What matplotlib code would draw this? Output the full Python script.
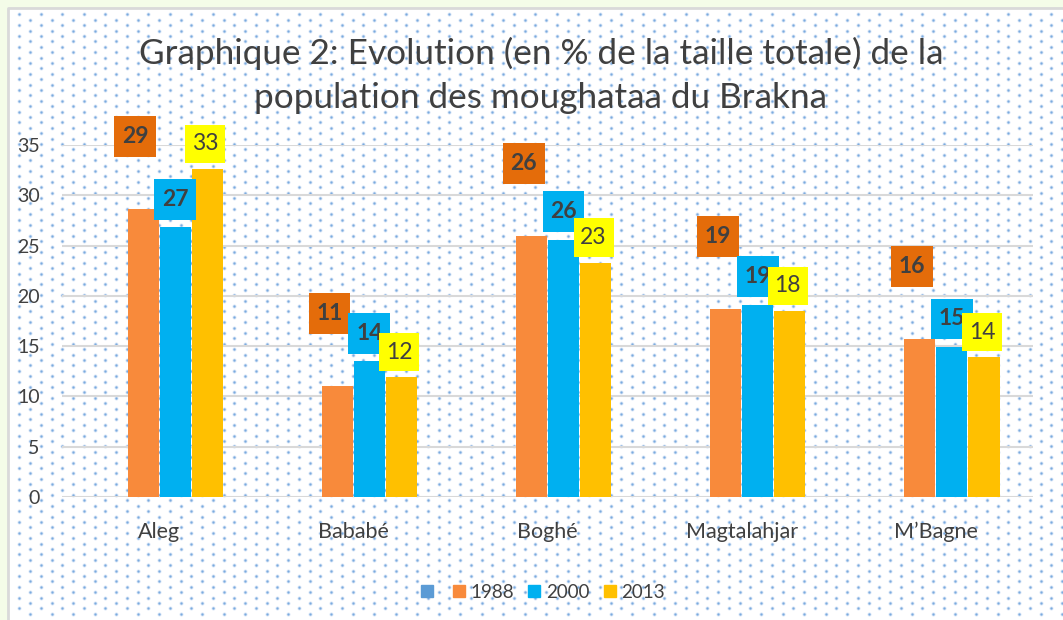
import numpy as np
import matplotlib.pyplot as plt
from matplotlib.patches import Rectangle, Patch

plt.rcParams['font.family'] = ['Lato', 'DejaVu Sans']

# data
categories = ['Aleg', 'Bababé', 'Boghé', 'Magtalahjar', 'M’Bagne']
years = ['1988', '2000', '2013']
pop_1988 = [28.6, 11.0, 26.0, 18.7, 15.7]
pop_2000 = [26.8, 13.5, 25.6, 19.1, 14.9]
pop_2013 = [32.6, 11.9, 23.3, 18.5, 13.9]
labels_1988 = ['29', '11', '26', '19', '16']
labels_2000 = ['27', '14', '26', '19', '15']
labels_2013 = ['33', '12', '23', '18', '14']
y_ticks = [0, 5, 10, 15, 20, 25, 30, 35]

W, H = 1063, 620
fig = plt.figure(figsize=(W / 100, H / 100), dpi=100)
fig.patch.set_facecolor('#F4FCE8')

# background: white chart area with dotted pattern
bg = fig.add_axes([0, 0, 1, 1], zorder=0)
bg.set_xlim(0, W)
bg.set_ylim(H, 0)
bg.axis('off')
bg.add_patch(Rectangle((8, 8), W, H, facecolor='white', edgecolor='none'))
bg.plot([7.5, 7.5, W], [H, 8, 8], color='#D9D9D9', lw=2)
dx, dy = 21.5, 5.4
pts_x, pts_y = [], []
for r in range(int((H - 10) / dy) + 1):
    yy = 14.3 + (r - 1) * dy
    if yy < 10:
        continue
    x0 = 8.5 if r % 2 == 0 else 19.25
    for xx in np.arange(x0 + (dx if x0 < 10 else 0), W + 2, dx):
        pts_x.append(xx)
        pts_y.append(yy)
bg.scatter(pts_x, pts_y, s=8, color='#D3E3F5', lw=0)
bg.scatter(pts_x, pts_y, s=2.5, color='#7AAADF', lw=0)

ax = fig.add_axes([62 / W, 1 - 497 / H, (1033 - 62) / W, (497 - 145) / H], zorder=1)
ax.patch.set_alpha(0)

series = [
    (pop_1988, labels_1988, '#F88A3B', '#E46C0A', 'bold', 7.2, -0.04),
    (pop_2000, labels_2000, '#00B0F0', '#00B0F0', 'bold', 2.8, 0.0),
    (pop_2013, labels_2013, '#FFC000', '#FFFF00', 'normal', 2.5, -0.01),
]
x = np.arange(len(categories))
pitch = 0.165
width = 0.16
for i, (vals, labs, col, lcol, weight, off, xoff) in enumerate(series):
    pos = x + (i + 1 - 1.5) * pitch
    ax.bar(pos, vals, width, color=col, zorder=3)
    bw, bh = (0.216, 4.07) if i < 2 else (0.206, 3.8)
    for px, v, t in zip(pos, vals, labs):
        cx, cy = px + xoff, v + off
        ax.add_patch(Rectangle((cx - bw / 2, cy - bh / 2), bw, bh, facecolor=lcol,
                               edgecolor='none', zorder=5 + i, clip_on=False))
        ax.text(cx, cy, t, ha='center', va='center', fontsize=16.5, fontweight=weight,
                color='#404040', zorder=6 + i, clip_on=False)

ax.set_xlim(-0.5, 4.5)
ax.set_ylim(0, 35)
ax.set_yticks(y_ticks)
ax.yaxis.grid(True, color='#D9D9D9', lw=1.5, zorder=1)
ax.set_axisbelow(True)
for s in ax.spines.values():
    s.set_visible(False)
ax.set_xticks(x)
ax.set_xticklabels(categories)
ax.tick_params(axis='both', length=0, labelcolor='#404040')
ax.tick_params(axis='y', labelsize=14, pad=16)
ax.tick_params(axis='x', labelsize=15.5, pad=18)

fig.text(541 / W, 1 - 64 / H, 'Graphique 2: Evolution (en % de la taille totale) de la',
         ha='center', va='baseline', fontsize=25.3, color='#404040')
fig.text(541 / W, 1 - 108 / H, 'population des moughataa du Brakna',
         ha='center', va='baseline', fontsize=25.3, color='#404040')

handles = [Patch(color='#5B9BD5'), Patch(color='#F88A3B'),
           Patch(color='#00B0F0'), Patch(color='#FFC000')]
fig.legend(handles, [''] + years, loc='center', bbox_to_anchor=(543 / W, 1 - 592 / H),
           ncol=4, frameon=False, fontsize=13.5, handlelength=0.65, handleheight=0.65,
           handletextpad=0.3, columnspacing=0.75, labelcolor='#404040')

fig.savefig('out.png', dpi=100, facecolor=fig.get_facecolor())
